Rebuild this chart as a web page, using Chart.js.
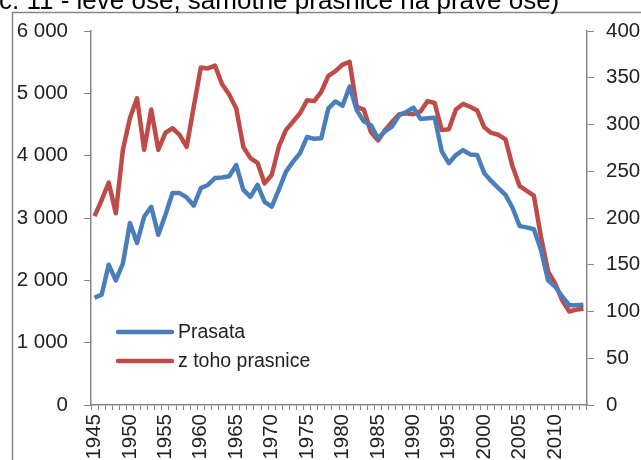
<!DOCTYPE html>
<html>
<head>
<meta charset="utf-8">
<script src="https://cdn.jsdelivr.net/npm/chart.js@4/dist/chart.umd.min.js"></script>
<style>
  html, body { margin: 0; padding: 0; background: #fff; }
  #wrap { position: relative; width: 641px; height: 460px; }
</style>
</head>
<body>
<div id="wrap"><canvas id="myChart" width="641" height="460"></canvas></div>
<script>
// years 1945 - 2014
var years = [];
for (var y = 1945; y <= 2014; y++) years.push(String(y));

// Prasata (tis. ks), left axis
var prasata = [
  1720, 1770, 2250, 2000, 2270, 2920, 2600, 3020, 3180, 2730,
  3050, 3400, 3400, 3330, 3200, 3480, 3530, 3640, 3650, 3670,
  3850, 3450, 3340, 3530, 3260, 3180, 3450, 3740, 3900, 4040,
  4300, 4270, 4280, 4760, 4870, 4800, 5110, 4730, 4550, 4490,
  4280, 4390, 4470, 4650, 4700, 4770, 4590, 4600, 4610, 4070,
  3880, 4010, 4090, 4020, 4010, 3720, 3590, 3480, 3370, 3160,
  2870, 2850, 2820, 2490, 2000, 1900, 1740, 1600, 1600, 1610
];

// z toho prasnice (tis. ks), right axis
var prasnice = [
  202, 219, 238, 205, 273, 307, 328, 273, 316, 273,
  291, 296, 289, 276, 319, 361, 360, 363, 343, 332,
  317, 276, 264, 259, 237, 246, 276, 294, 303, 312,
  326, 325, 335, 352, 357, 364, 367, 319, 316, 292,
  283, 294, 303, 311, 312, 311, 314, 325, 323, 294,
  295, 316, 322, 319, 315, 297, 291, 289, 284, 255,
  234, 229, 224, 180, 143, 130, 112, 100, 102, 103
];

var seriesNames = ["Prasata", "z toho prasnice"];
var titleText = "č. 11 - levé ose, samotné prasnice na pravé ose)";

var FONT = "'Liberation Sans', Arial, sans-serif";
var AXIS_GRAY = "#868686";

// frame + cut title at top
var framePlugin = {
  id: "frame",
  beforeDraw: function (chart) {
    var ctx = chart.ctx;
    ctx.save();
    ctx.strokeStyle = AXIS_GRAY;
    ctx.lineWidth = 1.5;
    ctx.strokeRect(12.5, 12.5, 800, 800);
    ctx.fillStyle = "#000";
    ctx.font = "26px " + FONT;
    ctx.textBaseline = "alphabetic";
    ctx.fillText(titleText, -1, 9);
    ctx.restore();
  }
};

// legend inside plot, lower left
var legendPlugin = {
  id: "innerLegend",
  afterDatasetsDraw: function (chart) {
    var ctx = chart.ctx;
    var rows = [332, 361];
    ctx.save();
    chart.data.datasets.forEach(function (ds, i) {
      ctx.strokeStyle = ds.borderColor;
      ctx.lineWidth = 4.5;
      ctx.lineCap = "round";
      ctx.beginPath();
      ctx.moveTo(118, rows[i]);
      ctx.lineTo(172, rows[i]);
      ctx.stroke();
      ctx.fillStyle = "#222";
      ctx.font = "19.5px " + FONT;
      ctx.textBaseline = "middle";
      ctx.fillText(ds.label, 178, rows[i] + 1);
    });
    ctx.restore();
  }
};

function fmtThousands(v) {
  return String(v).replace(/\B(?=(\d{3})+(?!\d))/g, " ");
}

var ctx = document.getElementById("myChart").getContext("2d");
var chart = new Chart(ctx, {
  type: "line",
  data: {
    labels: years,
    datasets: [
      {
        label: seriesNames[0],
        data: prasata,
        borderColor: "#4A7EBB",
        borderWidth: 4.5,
        pointRadius: 0,
        tension: 0,
        borderJoinStyle: "round",
        yAxisID: "y"
      },
      {
        label: seriesNames[1],
        data: prasnice,
        borderColor: "#BE4B48",
        borderWidth: 4.5,
        pointRadius: 0,
        tension: 0,
        borderJoinStyle: "round",
        yAxisID: "y1"
      }
    ]
  },
  options: {
    responsive: false,
    animation: false,
    layout: { padding: { top: 31, left: 0, right: 0, bottom: 0 } },
    plugins: {
      legend: { display: false },
      tooltip: { enabled: false }
    },
    scales: {
      x: {
        offset: true,
        grid: {
          offset: true,
          drawOnChartArea: false,
          drawTicks: true,
          tickLength: 5,
          color: AXIS_GRAY
        },
        border: { display: true, color: AXIS_GRAY, width: 1.5 },
        ticks: {
          autoSkip: false,
          minRotation: 90,
          maxRotation: 90,
          padding: 4,
          color: "#222",
          font: { family: FONT, size: 20.5 },
          callback: function (val, idx) {
            return idx % 5 === 0 ? this.getLabelForValue(val) : "";
          }
        },
        afterFit: function (scale) { scale.height = 55; }
      },
      y: {
        position: "left",
        min: 0,
        max: 6000,
        grid: {
          drawOnChartArea: false,
          drawTicks: true,
          tickLength: 7,
          color: AXIS_GRAY
        },
        border: { display: true, color: AXIS_GRAY, width: 1.5 },
        ticks: {
          stepSize: 1000,
          padding: 16,
          color: "#222",
          font: { family: FONT, size: 20.5 },
          callback: function (v) { return fmtThousands(v); }
        },
        afterFit: function (scale) { scale.width = 91; }
      },
      y1: {
        position: "right",
        min: 0,
        max: 400,
        grid: {
          drawOnChartArea: false,
          drawTicks: true,
          tickLength: 7,
          color: AXIS_GRAY
        },
        border: { display: true, color: AXIS_GRAY, width: 1.5 },
        ticks: {
          stepSize: 50,
          padding: 12,
          color: "#222",
          font: { family: FONT, size: 20.5 }
        },
        afterFit: function (scale) { scale.width = 54; }
      }
    }
  },
  plugins: [framePlugin, legendPlugin]
});
</script>
</body>
</html>
